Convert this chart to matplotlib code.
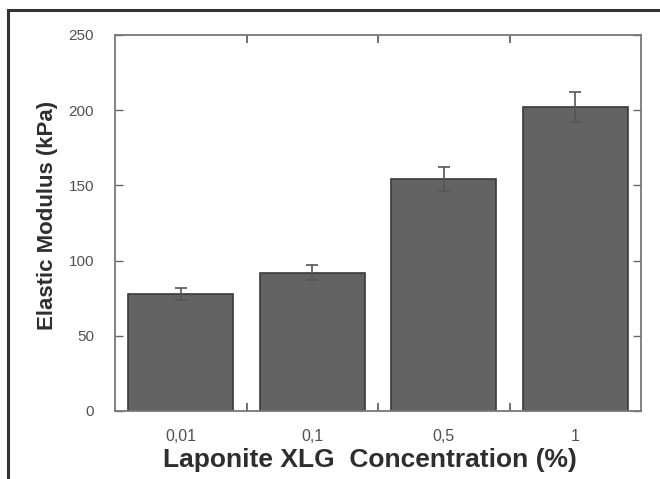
import matplotlib
matplotlib.use('Agg')
import matplotlib.pyplot as plt
from matplotlib.patches import Rectangle
from matplotlib.ticker import FixedLocator

categories = ['0,01', '0,1', '0,5', '1']
modulus = [78, 92, 154, 202]
errors = [4, 5, 8, 10]
y_ticks = [0, 50, 100, 150, 200, 250]


def main():
    fig = plt.figure(figsize=(6.6, 4.79), dpi=100)
    ax = fig.add_axes([115 / 660, 1 - 411 / 479, 526 / 660, 376 / 479])

    # outer frame, clipped on the right and bottom like the scan
    fig.patches.append(Rectangle((8 / 660, -0.1), 1.1, 1 - 10 / 479 + 0.1,
                                 transform=fig.transFigure, fill=False,
                                 edgecolor='#333333', linewidth=2.2))

    x = list(range(len(categories)))
    ax.bar(x, modulus, width=0.8, color='#636363', edgecolor='#3a3a3a', linewidth=1.2,
           yerr=errors, error_kw=dict(ecolor='#555555', elinewidth=1.2, capsize=4, capthick=1.2))

    ax.set_xlim(-0.5, 3.5)
    ax.set_ylim(0, 250)
    ax.set_yticks(y_ticks)
    ax.set_yticklabels([str(t) for t in y_ticks], color='#505050', fontsize=11)
    ax.set_xticks(x)
    ax.set_xticklabels(categories, color='#505050', fontsize=11.5)
    ax.xaxis.set_minor_locator(FixedLocator([0.5, 1.5, 2.5]))

    ax.tick_params(axis='x', which='major', length=0, pad=13)
    ax.tick_params(axis='x', which='minor', direction='in', length=6, width=1.2,
                   color='#555555', top=True, bottom=True)
    ax.tick_params(axis='y', direction='in', length=6, width=1.0, color='#666666',
                   left=True, right=True, pad=15)

    for s in ax.spines.values():
        s.set_color('#777777')
        s.set_linewidth(1.3)

    ax.set_xlabel('Laponite XLG  Concentration (%)', fontsize=19, fontweight='bold',
                  color='#2e2e2e')
    ax.xaxis.set_label_coords((370 - 115) / 526, (411 - 448) / 376)
    ax.set_ylabel('Elastic Modulus (kPa)', fontsize=16, fontweight='bold',
                  color='#2e2e2e')
    ax.yaxis.set_label_coords((58 - 115) / 526, (411 - 215) / 376)

    fig.savefig('out.png', dpi=100)


if __name__ == '__main__':
    plt.rcParams['font.family'] = ['Liberation Sans', 'DejaVu Sans']
    main()
